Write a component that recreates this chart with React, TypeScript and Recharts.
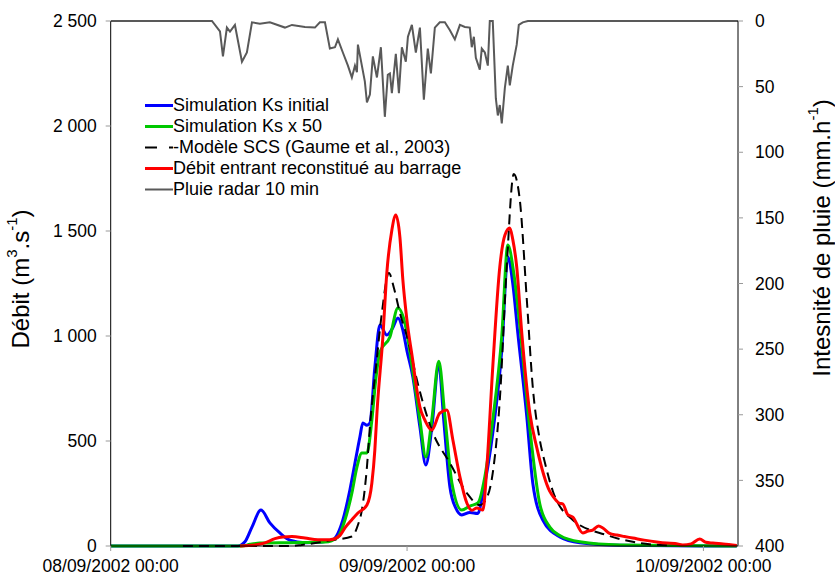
import { Line, LineChart, XAxis, YAxis } from "recharts";

// hours since 08/09/2002 00:00
const dateTicks = [0, 24, 48];
const dateLabels = ["08/09/2002 00:00", "09/09/2002 00:00", "10/09/2002 00:00"];
const flowTicks = [0, 500, 1000, 1500, 2000, 2500];
const rainTicks = [0, 50, 100, 150, 200, 250, 300, 350, 400];

const blueHours = [0, 10.3, 10.87, 11.44, 12.17, 12.89, 13.7, 14.51, 15.73, 16.94, 17.99, 18.8, 19.37, 19.86, 20.18, 20.42, 20.75, 20.99, 21.39, 21.8, 22.36, 22.85, 23.26, 23.66, 23.98, 24.47, 25.04, 25.52, 26.0, 26.57, 26.97, 27.47, 27.95, 28.43, 29.08, 29.73, 30.14, 30.94, 31.67, 32.16, 32.56, 32.97, 33.7, 34.18, 34.99, 36.37, 37.99, 41.23, 50.7];
const blueFlow = [0, 0, 20, 90, 171, 110, 62, 28, 16, 18, 30, 124, 267, 420, 519, 586, 575, 585, 850, 1052, 1005, 1040, 1086, 1028, 933, 805, 567, 386, 560, 862, 600, 281, 180, 148, 160, 155, 252, 538, 933, 1376, 1250, 1014, 614, 300, 124, 43, 15, 3, 0];

const greenHours = [0, 10.63, 11.28, 12.08, 14.51, 17.35, 18.4, 18.97, 19.53, 19.94, 20.34, 20.75, 21.15, 21.48, 21.8, 22.61, 23.26, 23.82, 24.47, 25.04, 25.52, 26.0, 26.57, 27.06, 27.63, 28.43, 29.08, 29.73, 30.3, 30.94, 31.67, 32.16, 32.64, 33.13, 33.94, 34.75, 35.56, 36.37, 37.99, 41.23, 50.7];
const greenFlow = [0, 0, 8, 14, 16, 19, 43, 124, 252, 376, 443, 443, 600, 800, 924, 995, 1133, 1062, 830, 600, 424, 600, 880, 620, 300, 171, 190, 205, 330, 600, 1000, 1433, 1300, 1050, 560, 200, 90, 50, 20, 5, 0];

const scsHours = [5.85, 14.51, 15.48, 17.91, 19.53, 20.02, 20.34, 20.75, 20.99, 21.48, 21.96, 22.53, 22.93, 23.42, 24.07, 24.8, 26.1, 27.47, 28.84, 29.89, 30.46, 30.94, 31.51, 32.07, 32.64, 33.13, 33.7, 34.18, 34.75, 35.15, 35.8, 37.42, 40.17, 42.84, 45.11];
const scsFlow = [0, 0, 5, 28, 45, 100, 171, 376, 567, 850, 1110, 1300, 1230, 1110, 981, 790, 538, 395, 252, 195, 230, 348, 695, 1329, 1771, 1648, 1171, 757, 505, 400, 262, 124, 52, 14, 3];

const damHours = [10.47, 11.68, 12.49, 13.3, 13.95, 14.68, 15.73, 16.78, 17.75, 18.56, 18.97, 19.53, 20.02, 20.75, 21.15, 21.39, 21.56, 22.04, 22.36, 22.77, 23.09, 23.42, 23.66, 23.98, 24.47, 24.7, 25.04, 25.44, 26.0, 26.65, 27.22, 27.71, 28.28, 28.84, 29.25, 29.65, 30.14, 30.46, 30.94, 31.51, 31.92, 32.32, 32.56, 32.88, 33.29, 33.94, 34.5, 35.56, 35.9, 36.3, 36.62, 37.0, 37.42, 38.23, 38.6, 39.04, 39.5, 39.85, 40.4, 40.98, 41.6, 42.28, 43.2, 44.22, 45.03, 45.7, 46.33, 47.0, 47.7, 48.2, 48.76, 49.6, 50.7];
const damFlow = [0, 5, 15, 35, 43, 45, 38, 30, 30, 50, 86, 125, 157, 195, 300, 457, 633, 995, 1300, 1505, 1576, 1471, 1267, 1080, 880, 780, 662, 600, 552, 633, 648, 505, 329, 205, 170, 181, 171, 376, 852, 1329, 1480, 1514, 1460, 1329, 1014, 633, 470, 260, 230, 205, 200, 150, 138, 62, 70, 76, 95, 86, 60, 52, 45, 38, 28, 19, 14, 12, 5, 10, 33, 18, 14, 10, 3];

const rainHours = [0, 8.2, 8.85, 9.09, 9.41, 9.66, 10.06, 10.63, 11.03, 11.44, 12.08, 12.89, 14.11, 14.68, 15.73, 16.54, 16.94, 17.35, 17.75, 18.16, 18.4, 18.8, 19.21, 19.53, 19.78, 19.94, 20.02, 20.34, 20.58, 20.75, 20.99, 21.23, 21.56, 21.88, 22.2, 22.44, 22.61, 22.77, 23.09, 23.34, 23.58, 23.9, 24.07, 24.39, 24.71, 25.04, 25.36, 25.68, 25.93, 26.25, 26.65, 27.06, 27.47, 27.87, 28.28, 28.68, 29.08, 29.24, 29.41, 29.57, 29.89, 30.05, 30.3, 30.54, 30.7, 30.94, 31.19, 31.35, 31.51, 31.67, 31.92, 32.16, 32.32, 32.56, 32.88, 33.05, 33.37, 33.78, 50.8];
const rainIntensity = [0, 0, 8, 27, 5, 8, 3, 31, 24, 1, 2, 1, 5, 3, 4.5, 5, 1, 1, 21, 20, 14, 24, 34, 43, 34, 39, 18, 34, 46, 62, 56, 27, 43, 20, 73, 41, 40, 55, 25, 55, 20, 31, 12, 3, 24, 5, 60, 21, 40, 5, 1, 1, 7, 14, 3, 4.5, 5, 20, 12, 28, 37, 21, 24, 34, 0, 0, 59, 72, 64, 78, 51, 34, 49, 34, 18, 3, 1, 0, 0];

const pts = (hours: number[], values: number[]) =>
	hours.map((h, i) => ({ h, v: values[i] }));

const legendItems = [
	{ label: "Simulation Ks initial", color: "#0000ff", width: 3, dash: undefined },
	{ label: "Simulation Ks x 50", color: "#00c800", width: 3, dash: undefined },
	{ label: "-Modèle SCS (Gaume et al., 2003)", color: "#000", width: 2, dash: "12 12" },
	{ label: "Débit entrant reconstitué au barrage", color: "#ff0000", width: 3, dash: undefined },
	{ label: "Pluie radar 10 min", color: "#595959", width: 2, dash: undefined },
];

const FONT = "'Liberation Sans', Arial, sans-serif";
const tickStyle = { fontSize: 17.5, fill: "#000", fontFamily: FONT };

function LegendBox() {
	return (
		<div
			style={{
				position: "absolute",
				left: 145,
				top: 95,
				fontFamily: FONT,
				fontSize: 18,
				color: "#000",
			}}
		>
			{legendItems.map((it) => (
				<div
					key={it.label}
					style={{ display: "flex", alignItems: "center", height: 21, lineHeight: "21px" }}
				>
					<svg width={28} height={21} style={{ display: "block" }}>
						<line
							x1={0}
							x2={28}
							y1={10.5}
							y2={10.5}
							stroke={it.color}
							strokeWidth={it.width}
							strokeDasharray={it.dash}
						/>
					</svg>
					<span style={{ whiteSpace: "nowrap" }}>{it.label}</span>
				</div>
			))}
		</div>
	);
}

function FlowTitle() {
	const cx = 20;
	const cy = 279;
	return (
		<text
			x={cx}
			y={cy}
			transform={`rotate(-90 ${cx} ${cy})`}
			textAnchor="middle"
			dominantBaseline="central"
			fontSize={24}
			fontFamily={FONT}
			fill="#000"
		>
			Débit (m<tspan fontSize={15} dy={-9}>3</tspan>
			<tspan dy={9}>.s</tspan>
			<tspan fontSize={15} dy={-9}>-1</tspan>
			<tspan dy={9}>)</tspan>
		</text>
	);
}

function RainTitle() {
	const cx = 821;
	const cy = 238;
	return (
		<text
			x={cx}
			y={cy}
			transform={`rotate(-90 ${cx} ${cy})`}
			textAnchor="middle"
			dominantBaseline="central"
			fontSize={24}
			fontFamily={FONT}
			fill="#000"
		>
			Intesnité de pluie (mm.h<tspan fontSize={15} dy={-9}>-1</tspan>
			<tspan dy={9}>)</tspan>
		</text>
	);
}

export default function App() {
	return (
		<div style={{ position: "absolute", left: 0, top: 0, width: 835, height: 575, background: "#fff" }}>
			<LineChart
				width={835}
				height={575}
				margin={{ top: 21, right: 0, bottom: 0, left: 0 }}
			>
				<XAxis
					dataKey="h"
					type="number"
					domain={[0, 50.8]}
					ticks={dateTicks}
					tickFormatter={(h) => dateLabels[dateTicks.indexOf(h)]}
					height={29}
					stroke="#000"
					tickLine={{ stroke: "#999" }}
					tickSize={5}
					tickMargin={9}
					tick={tickStyle}
					interval={0}
					allowDataOverflow
				/>
				<YAxis
					yAxisId="flow"
					domain={[0, 2500]}
					ticks={flowTicks}
					tickFormatter={(v) => (v >= 1000 ? `${Math.floor(v / 1000)} ${String(v % 1000).padStart(3, "0")}` : `${v}`)}
					width={110.7}
					stroke="#000"
					tickLine={{ stroke: "#999" }}
					tickSize={5}
					tickMargin={9}
					tick={tickStyle}
					interval={0}
					label={<FlowTitle />}
				/>
				<YAxis
					yAxisId="rain"
					orientation="right"
					reversed
					domain={[0, 400]}
					ticks={rainTicks}
					width={97}
					stroke="#000"
					tickLine={{ stroke: "#999" }}
					tickSize={5}
					tickMargin={12}
					tick={tickStyle}
					interval={0}
					label={<RainTitle />}
				/>
				<Line
					yAxisId="flow"
					data={pts(blueHours, blueFlow)}
					dataKey="v"
					type="monotone"
					stroke="#0000ff"
					strokeWidth={3}
					dot={false}
					isAnimationActive={false}
				/>
				<Line
					yAxisId="flow"
					data={pts(greenHours, greenFlow)}
					dataKey="v"
					type="monotone"
					stroke="#00c800"
					strokeWidth={3}
					dot={false}
					isAnimationActive={false}
				/>
				<Line
					yAxisId="flow"
					data={pts(scsHours, scsFlow)}
					dataKey="v"
					type="monotone"
					stroke="#000"
					strokeWidth={2}
					strokeDasharray="10 6"
					dot={false}
					isAnimationActive={false}
				/>
				<Line
					yAxisId="flow"
					data={pts(damHours, damFlow)}
					dataKey="v"
					type="monotone"
					stroke="#ff0000"
					strokeWidth={3}
					dot={false}
					isAnimationActive={false}
				/>
				<Line
					yAxisId="rain"
					data={pts(rainHours, rainIntensity)}
					dataKey="v"
					type="linear"
					stroke="#595959"
					strokeWidth={2}
					dot={false}
					isAnimationActive={false}
				/>
			</LineChart>
			<LegendBox />
		</div>
	);
}
